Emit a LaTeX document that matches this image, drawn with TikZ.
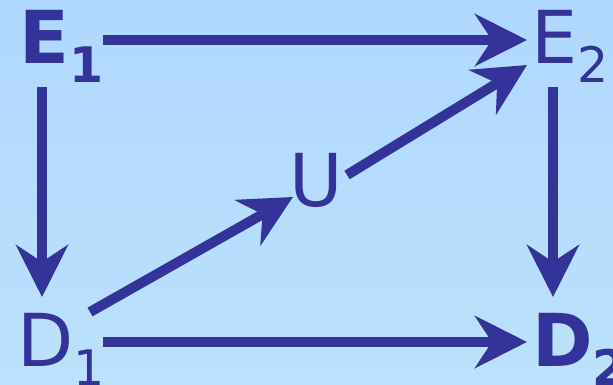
\documentclass[tikz,border=0pt]{standalone}
\usepackage{fontspec}
\setmainfont{DejaVu Sans}
\usetikzlibrary{arrows.meta}
\definecolor{BgTop}{RGB}{176,215,255}
\definecolor{BgBot}{RGB}{188,225,252}
\definecolor{InkBlue}{RGB}{51,51,153}
\newcommand{\subidx}[1]{\raisebox{-19pt}{\fontsize{49}{49}\selectfont #1}}
\tikzset{
  nd_var/.style={
    inner sep=0pt, anchor=base west, text=InkBlue,
    font=\fontsize{73}{80}\selectfont},
  nd_key/.style={
    nd_var, font=\fontsize{73}{80}\selectfont\bfseries},
  arr/.style={
    draw=InkBlue, line width=10pt,
    -{Stealth[length=52pt,width=52pt,inset=17pt]}},
}

\begin{document}
\begin{tikzpicture}[x=1pt,y=-1pt]
\shade[top color=BgTop,bottom color=BgBot] (0,0) rectangle (613,384);
\useasboundingbox (0,0) rectangle (613,384);
% variables
\node[nd_key] (E1) at (19,63) {E\subidx{1}};
\node[nd_var] (E2) at (531,63) {E\subidx{2}};
\node[nd_var] (U) at (289,206) {U};
\node[nd_var] (D1) at (17,366) {D\subidx{1}};
\node[nd_key] (D2) at (532,366) {D\subidx{2}};
% arrows
\draw[arr] ([xshift=84pt,yshift=23pt]E1.base west) -- ([xshift=-4pt,yshift=23pt]E2.base west);
\draw[arr] ([xshift=23pt,yshift=-24pt]E1.base west) -- ([xshift=25pt,yshift=69pt]D1.base west);
\draw[arr] ([xshift=22pt,yshift=-24pt]E2.base west) -- ([xshift=21pt,yshift=69pt]D2.base west);
\draw[arr] ([xshift=86pt,yshift=24pt]D1.base west) -- ([xshift=-5pt,yshift=24pt]D2.base west);
\draw[arr] ([xshift=73pt,yshift=54pt]D1.base west) -- ([xshift=4pt,yshift=9pt]U.base west);
\draw[arr] ([xshift=58pt,yshift=31pt]U.base west) -- ([xshift=-4pt,yshift=-2pt]E2.base west);
\end{tikzpicture}
\end{document}
